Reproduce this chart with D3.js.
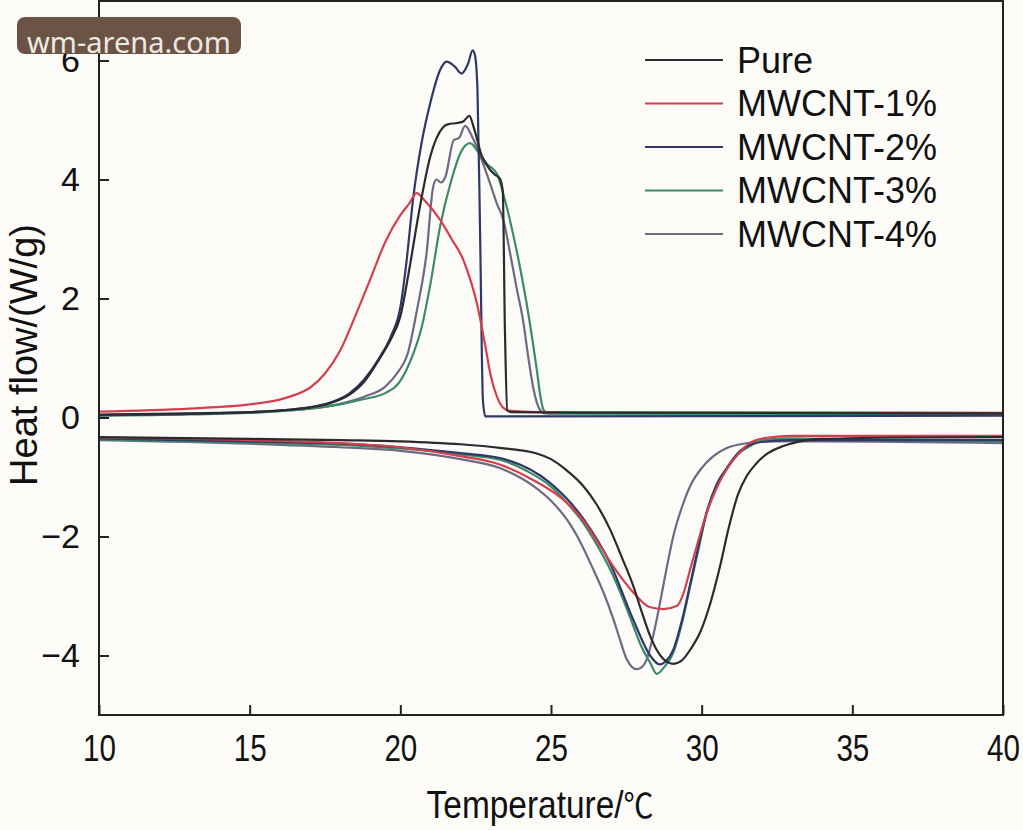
<!DOCTYPE html>
<html lang="en">
<head>
<meta charset="UTF-8">
<title>DSC curves</title>
<style>
    body { margin: 0; background: #fcfbf7; }
    #SVG { display: block; background-color: #fcfbf7; }
</style>
</head>
<body>
<svg id="SVG"></svg>
<script src="https://d3js.org/d3.v7.min.js"></script>
<script>
// ---------- data: [temperature, heat flow] ----------
var seriesNames = ["Pure", "MWCNT-1%", "MWCNT-2%", "MWCNT-3%", "MWCNT-4%"];
var seriesColors = ["#2b2b2e", "#d2404f", "#2f3866", "#3d8a68", "#6f6a82"];

// cooling (exothermic, upper curves)
var pureCool = [[10,0.05],[13,0.07],[15,0.09],[16.3,0.13],[17,0.17],[17.67,0.24],[18.3,0.38],[18.8,0.6],[19.3,0.98],[19.7,1.33],[20.0,1.7],
    [20.3,2.5],[20.6,3.4],[21.0,4.4],[21.42,4.88],[21.6,4.93],[21.9,4.95],[22.1,4.98],[22.29,5.07],[22.45,4.85],[22.7,4.4],
    [23.0,4.15],[23.14,4.08],[23.3,4.02],[23.4,3.8],[23.47,1.5],[23.55,0.12],[23.7,0.09],[26,0.08],[40,0.07]];
var mw1Cool = [[10,0.1],[13,0.15],[15,0.22],[16,0.3],[16.5,0.38],[17.0,0.5],[17.5,0.74],[18.0,1.12],[18.5,1.7],[19.0,2.32],[19.5,2.95],
    [20.0,3.4],[20.3,3.6],[20.54,3.77],[20.8,3.65],[21.32,3.32],[21.7,3.0],[22.09,2.65],[22.3,2.35],[22.54,1.92],[22.86,1.09],
    [23.0,0.7],[23.2,0.36],[23.4,0.17],[23.64,0.11],[24.5,0.09],[40,0.08]];
var mw2Cool = [[10,0.04],[13,0.06],[15,0.09],[16.3,0.13],[17,0.17],[17.67,0.25],[18.3,0.4],[18.8,0.64],[19.3,1.0],[19.7,1.38],[20.0,1.85],
    [20.2,2.6],[20.43,3.7],[20.7,4.6],[21.0,5.3],[21.32,5.84],[21.54,5.98],[21.8,5.9],[22.03,5.78],[22.25,5.95],[22.4,6.17],[22.48,6.08],
    [22.56,5.5],[22.65,3.0],[22.74,0.3],[22.82,0.02],[23.2,0.02],[40,0.03]];
var mw3Cool = [[10,0.03],[13,0.05],[15,0.08],[16.3,0.12],[17,0.15],[18,0.22],[18.8,0.31],[19.5,0.41],[19.9,0.55],[20.2,0.8],[20.45,1.1],
    [20.7,1.5],[21.0,2.25],[21.32,3.21],[21.7,4.0],[22.0,4.45],[22.31,4.61],[22.6,4.45],[22.9,4.25],[23.2,4.1],[23.5,3.6],[23.76,3.04],
    [24.0,2.45],[24.19,1.92],[24.4,1.25],[24.53,0.8],[24.65,0.35],[24.75,0.13],[24.9,0.07],[40,0.06]];
var mw4Cool = [[10,0.04],[13,0.06],[15,0.08],[16.3,0.12],[17,0.15],[18,0.23],[18.8,0.35],[19.5,0.52],[19.9,0.75],[20.26,1.1],[20.55,1.8],
    [20.87,2.76],[21.09,3.88],[21.2,4.0],[21.35,3.95],[21.5,4.05],[21.77,4.66],[21.95,4.7],[22.15,4.9],[22.4,4.7],[22.7,4.33],[23.0,3.9],
    [23.2,3.6],[23.42,3.32],[23.64,2.77],[23.85,2.2],[24.07,1.64],[24.25,1.0],[24.4,0.53],[24.63,0.13],[24.8,0.07],[40,0.06]];

// heating (endothermic, lower curves)
var pureHeat = [[10,-0.33],[15,-0.36],[18,-0.38],[20,-0.4],[22,-0.45],[23.3,-0.51],[24.5,-0.6],[25.0,-0.7],[25.5,-0.88],[26.07,-1.15],
    [26.5,-1.45],[26.96,-1.88],[27.35,-2.35],[27.73,-2.83],[28.0,-3.25],[28.29,-3.67],[28.5,-3.9],[28.73,-4.06],[29.06,-4.14],
    [29.35,-4.08],[29.65,-3.88],[29.95,-3.61],[30.3,-3.1],[30.61,-2.5],[30.9,-1.85],[31.2,-1.3],[31.5,-0.98],[31.8,-0.78],
    [32.2,-0.6],[32.71,-0.48],[33.27,-0.4],[34,-0.36],[36,-0.34],[40,-0.33]];
var mw1Heat = [[10,-0.34],[15,-0.38],[18,-0.43],[20,-0.5],[22,-0.65],[23.3,-0.79],[24.4,-1.05],[25.52,-1.43],[26.1,-1.75],[26.63,-2.16],
    [27.2,-2.6],[27.73,-2.94],[28.29,-3.19],[28.73,-3.22],[29.17,-3.17],[29.4,-2.95],[29.62,-2.55],[29.9,-2.05],[30.17,-1.6],
    [30.5,-1.18],[30.83,-0.87],[31.2,-0.62],[31.6,-0.43],[32.16,-0.34],[33,-0.31],[36,-0.31],[40,-0.31]];
var mw2Heat = [[10,-0.35],[15,-0.4],[18,-0.44],[20,-0.5],[22,-0.6],[23.3,-0.68],[24.97,-1.1],[26.07,-1.7],[26.96,-2.45],[27.73,-3.4],
    [28.29,-4.0],[28.6,-4.15],[28.8,-4.1],[29.06,-3.9],[29.35,-3.4],[29.62,-2.8],[29.9,-2.15],[30.17,-1.58],[30.5,-1.12],
    [30.83,-0.85],[31.2,-0.6],[31.6,-0.46],[32.2,-0.4],[33,-0.38],[40,-0.38]];
var mw3Heat = [[10,-0.37],[15,-0.42],[18,-0.46],[20,-0.52],[22,-0.62],[23.3,-0.71],[24.2,-0.9],[24.97,-1.15],[25.5,-1.42],[26.07,-1.77],
    [26.5,-2.12],[26.96,-2.55],[27.35,-3.0],[27.73,-3.5],[28.0,-3.85],[28.29,-4.12],[28.51,-4.31],[28.75,-4.2],[29.06,-3.95],
    [29.35,-3.45],[29.62,-2.83],[29.9,-2.2],[30.17,-1.6],[30.5,-1.15],[30.83,-0.87],[31.2,-0.62],[31.6,-0.48],[32.16,-0.37],
    [33,-0.35],[36,-0.38],[40,-0.4]];
var mw4Heat = [[10,-0.38],[15,-0.44],[18,-0.5],[20,-0.56],[22,-0.7],[23.3,-0.85],[24.41,-1.15],[25.0,-1.4],[25.52,-1.71],[26.0,-2.12],
    [26.4,-2.55],[26.75,-2.95],[27.07,-3.39],[27.3,-3.75],[27.51,-4.06],[27.84,-4.23],[28.0,-4.2],[28.18,-4.06],[28.4,-3.65],
    [28.62,-3.11],[28.85,-2.5],[29.06,-1.99],[29.35,-1.5],[29.62,-1.15],[30.0,-0.85],[30.39,-0.65],[30.8,-0.52],[31.28,-0.45],
    [32.16,-0.4],[34,-0.4],[40,-0.43]];

var coolData = [pureCool, mw1Cool, mw2Cool, mw3Cool, mw4Cool];
var heatData = [pureHeat, mw1Heat, mw2Heat, mw3Heat, mw4Heat];

var xTicks = [10, 15, 20, 25, 30, 35, 40];
var yTicks = [-4, -2, 0, 2, 4, 6];

// ---------- layout ----------
var width = 1023, height = 830;
var plotLeft = 99, plotRight = 1003, plotTop = 1, plotBottom = 715;

var svg = d3.select("#SVG").attr("width", width).attr("height", height);

var x = d3.scaleLinear().domain([10, 40]).range([plotLeft, plotRight]);
var y = d3.scaleLinear().domain([-5, 7]).range([plotBottom, plotTop]);

// axes with inward ticks
var axisX = d3.axisBottom(x).tickValues(xTicks).tickSizeInner(-10).tickSizeOuter(0).tickPadding(20);
var gx = svg.append("g").attr("transform", `translate(0,${plotBottom})`).call(axisX);
gx.select(".domain").remove();
gx.selectAll(".tick line").attr("stroke", "#222").attr("stroke-width", 2);
gx.selectAll(".tick text")
    .attr("fill", "#111")
    .style("font-family", "'Liberation Sans', Arial, sans-serif")
    .style("font-size", "37px")
    .attr("transform", "scale(0.8,1)");

var axisY = d3.axisLeft(y).tickValues(yTicks).tickSizeInner(-10).tickSizeOuter(0).tickPadding(19);
var gy = svg.append("g").attr("transform", `translate(${plotLeft},0)`).call(axisY);
gy.select(".domain").remove();
gy.selectAll(".tick line").attr("stroke", "#222").attr("stroke-width", 2);
gy.selectAll(".tick text")
    .attr("fill", "#111")
    .style("font-family", "'Liberation Sans', Arial, sans-serif")
    .style("font-size", "34px");

// curves
var line = d3.line()
    .x(d => x(d[0]))
    .y(d => y(d[1]))
    .curve(d3.curveMonotoneX);

var plot = svg.append("g");
// draw in reverse so Pure sits on top
for (var i = seriesNames.length - 1; i >= 0; i--) {
    plot.append("path").datum(coolData[i])
        .attr("d", line).attr("fill", "none")
        .attr("stroke", seriesColors[i]).attr("stroke-width", 2.2);
    plot.append("path").datum(heatData[i])
        .attr("d", line).attr("fill", "none")
        .attr("stroke", seriesColors[i]).attr("stroke-width", 2.2);
}

// frame
svg.append("rect")
    .attr("x", plotLeft).attr("y", plotTop)
    .attr("width", plotRight - plotLeft).attr("height", plotBottom - plotTop)
    .attr("fill", "none").attr("stroke", "#222").attr("stroke-width", 2);

// legend
var legend = svg.append("g");
seriesNames.forEach(function (name, i) {
    var ly = 60 + i * 43.5;
    legend.append("line")
        .attr("x1", 645).attr("x2", 723).attr("y1", ly).attr("y2", ly)
        .attr("stroke", seriesColors[i]).attr("stroke-width", 2);
    legend.append("text")
        .attr("x", 737).attr("y", ly).attr("dy", "0.36em")
        .attr("fill", "#111")
        .style("font-family", "'Liberation Sans', Arial, sans-serif")
        .style("font-size", "36px")
        .text(name);
});

// axis titles
var xTitle = svg.append("text")
    .attr("transform", "translate(540,818) scale(0.88,1)")
    .attr("text-anchor", "middle")
    .attr("fill", "#111")
    .style("font-family", "'Liberation Sans', Arial, sans-serif")
    .style("font-size", "38px");
xTitle.append("tspan").text("Temperature/");
xTitle.append("tspan").style("font-family", "'Noto Sans CJK SC', sans-serif").style("font-size", "34px").text("℃");

svg.append("text")
    .attr("transform", "translate(37,355) rotate(-90)")
    .attr("text-anchor", "middle")
    .attr("fill", "#111")
    .style("font-family", "'Liberation Sans', Arial, sans-serif")
    .style("font-size", "38px")
    .text("Heat flow/(W/g)");

// watermark badge
svg.append("rect")
    .attr("x", 17).attr("y", 17).attr("width", 224).attr("height", 37).attr("rx", 8)
    .attr("fill", "#6b5445");
svg.append("text")
    .attr("x", 27).attr("y", 53)
    .attr("fill", "#efe9e3")
    .style("font-family", "'Noto Sans', sans-serif")
    .style("font-size", "29px")
    .text("wm-arena.com");
</script>
</body>
</html>
